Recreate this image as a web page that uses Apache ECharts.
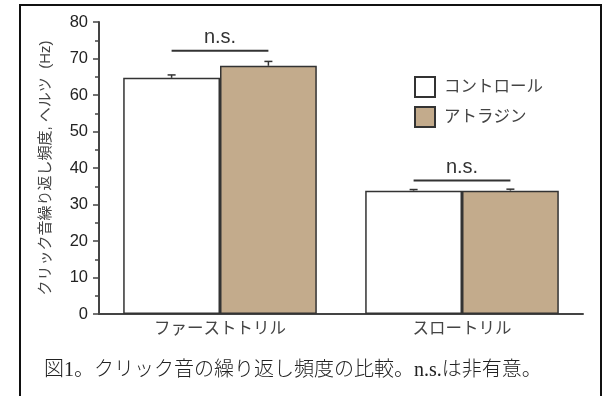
<!DOCTYPE html>
<html>
<head>
<meta charset="utf-8">
<script src="https://cdn.jsdelivr.net/npm/echarts@6/dist/echarts.min.js"></script>
<style>
  html, body { margin: 0; padding: 0; background: #ffffff; }
  #chart { width: 605px; height: 396px; }
</style>
</head>
<body>
<div id="chart"></div>
<script>
// Trill types on the x axis
const categories = ['ファーストトリル', 'スロートリル'];
// Series names
const seriesNames = ['コントロール', 'アトラジン'];
// Mean click repetition rate (Hz)
const controlValues = [64.7, 33.8];
const atrazineValues = [68.0, 33.8];
// Upper error (SE)
const controlErrors = [0.8, 0.3];
const atrazineErrors = [1.2, 0.4];
// Significance brackets: height (Hz) and label per category
const sigHeights = [72.1, 36.6];
const sigLabels = ['n.s.', 'n.s.'];
// Y axis ticks
const yMin = 0, yMax = 80, yStep = 10;

const captionText = '図1。クリック音の繰り返し頻度の比較。n.s.は非有意。';
const yTitle = 'クリック音繰り返し頻度, ヘルツ  (Hz)';

const CAT_GAP = 0.2;            // barCategoryGap
const SANS = 'Liberation Sans, Arial, "Noto Sans CJK JP", sans-serif';

function barWidthOf(api) {
  const band = api.size([1, 0])[0];
  return band * (1 - CAT_GAP) / 2;
}

// error bar (upward T) for one series; side = -1 (left bar) or +1 (right bar)
function errorRenderer(side) {
  return function (params, api) {
    const c = api.value(0), v = api.value(1), e = api.value(2);
    const bw = barWidthOf(api);
    const base = api.coord([c, v]);
    const top = api.coord([c, v + e]);
    const cx = base[0] + side * bw / 2;
    const style = { stroke: '#333', lineWidth: 1.5 };
    return {
      type: 'group',
      children: [
        { type: 'line', shape: { x1: cx, y1: base[1], x2: cx, y2: top[1] }, style },
        { type: 'line', shape: { x1: cx - 4, y1: top[1], x2: cx + 4, y2: top[1] }, style }
      ]
    };
  };
}

// n.s. bracket: horizontal line from bar centre to bar centre, label above
function sigRenderer(params, api) {
  const c = api.value(0), h = api.value(1);
  const bw = barWidthOf(api);
  const p = api.coord([c, h]);
  return {
    type: 'group',
    children: [
      { type: 'line', shape: { x1: p[0] - bw / 2, y1: p[1], x2: p[0] + bw / 2, y2: p[1] },
        style: { stroke: '#333', lineWidth: 2 } },
      { type: 'text', x: p[0], y: p[1] - 3,
        style: { text: sigLabels[params.dataIndex], fill: '#333', font: '20px ' + SANS,
                 align: 'center', verticalAlign: 'bottom' } }
    ]
  };
}

const chart = echarts.init(document.getElementById('chart'), null, { renderer: 'canvas' });

chart.setOption({
  backgroundColor: '#ffffff',
  animation: false,
  textStyle: { fontFamily: SANS },
  title: {
    text: captionText,
    left: 39,
    top: 356,
    textStyle: {
      fontFamily: '"Liberation Serif", "DejaVu Serif", "Noto Sans CJK JP", serif',
      fontWeight: 300,
      fontSize: 20,
      color: '#222'
    }
  },
  legend: {
    data: seriesNames,
    orient: 'vertical',
    left: 409,
    top: 71,
    itemWidth: 20,
    itemHeight: 20,
    itemGap: 8,
    icon: 'rect',
    textStyle: { fontSize: 16.5, color: '#444', fontFamily: SANS, padding: [0, 0, 0, 4] }
  },
  graphic: [
    {
      type: 'rect',
      shape: { x: 20, y: 5, width: 581, height: 400 },
      style: { fill: null, stroke: '#111', lineWidth: 2 },
      silent: true,
      z: 100
    }
  ],
  grid: { left: 99, right: 22, top: 22, bottom: 82 },
  xAxis: {
    type: 'category',
    data: categories,
    axisLine: { lineStyle: { color: '#444', width: 2 } },
    axisTick: { show: false },
    axisLabel: { fontSize: 16.5, color: '#444', margin: 7 }
  },
  yAxis: {
    type: 'value',
    min: yMin, max: yMax, interval: yStep,
    name: yTitle,
    nameLocation: 'middle',
    nameGap: 46,
    nameTextStyle: { fontSize: 15, color: '#444' },
    axisLine: { show: true, lineStyle: { color: '#444', width: 2 } },
    axisTick: { show: true, length: 6, lineStyle: { color: '#444', width: 1.5 } },
    minorTick: { show: true, splitNumber: 2, length: 4, lineStyle: { color: '#444', width: 1.5 } },
    axisLabel: { fontSize: 16.5, color: '#222', margin: 11 },
    splitLine: { show: false }
  },
  series: [
    {
      name: seriesNames[0],
      type: 'bar',
      data: controlValues,
      barGap: '0%',
      barCategoryGap: (CAT_GAP * 100) + '%',
      itemStyle: { color: '#ffffff', borderColor: '#333', borderWidth: 1.5 }
    },
    {
      name: seriesNames[1],
      type: 'bar',
      data: atrazineValues,
      barGap: '0%',
      barCategoryGap: (CAT_GAP * 100) + '%',
      itemStyle: { color: '#c3ab8c', borderColor: '#333', borderWidth: 1.5 }
    },
    {
      type: 'custom',
      renderItem: errorRenderer(-1),
      data: controlValues.map((v, i) => [i, v, controlErrors[i]]),
      z: 5
    },
    {
      type: 'custom',
      renderItem: errorRenderer(1),
      data: atrazineValues.map((v, i) => [i, v, atrazineErrors[i]]),
      z: 5
    },
    {
      type: 'custom',
      renderItem: sigRenderer,
      data: sigHeights.map((h, i) => [i, h]),
      z: 5
    }
  ]
});
</script>
</body>
</html>
